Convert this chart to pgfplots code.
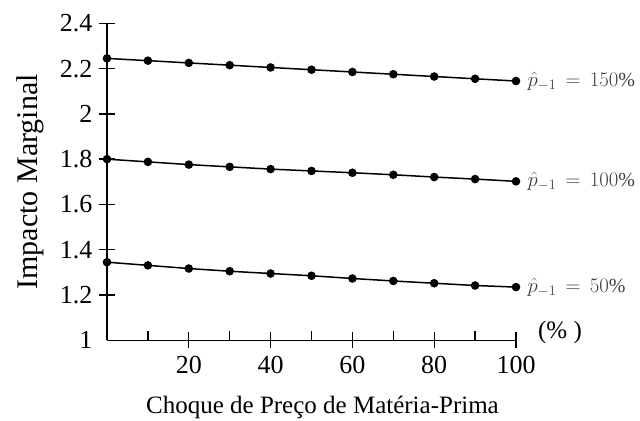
\documentclass[border=0pt]{standalone}
\usepackage{fontspec}
\setmainfont{Liberation Serif}
\usepackage{pgfplots}
\pgfplotsset{compat=1.18}
\begin{document}
\begin{tikzpicture}
\begin{axis}[
  name=ax,
  scale only axis,
  width=409pt, height=317pt,
  xmin=0, xmax=100, ymin=1, ymax=2.4,
  axis x line*=bottom, axis y line*=left,
  axis line style={line width=1.6pt},
  xtick={20,40,60,80,100},
  ytick={1,1.2,1.4,1.6,1.8,2,2.2,2.4},
  major tick length=0pt,
  /pgf/number format/assume math mode=true,
  ticklabel style={font=\fontsize{26}{30}\selectfont},
  yticklabel style={xshift=-11pt},
  xticklabel style={yshift=-12pt},
  xlabel style={font=\fontsize{25}{30}\selectfont, yshift=-16pt, xshift=11pt},
  ylabel style={font=\fontsize{30}{34}\selectfont, yshift=9pt},
  xlabel={Choque de Preço de Matéria-Prima},
  ylabel={Impacto Marginal},
  clip=false,
]
% tick marks crossing the axis lines, short ones between the labelled x ticks
\pgfplotsinvokeforeach{20,40,60,80,100}{
  \draw[line width=1.4pt] ([yshift=-8pt]axis cs:#1,1) -- ([yshift=8pt]axis cs:#1,1);}
\pgfplotsinvokeforeach{10,30,50,70,90}{
  \draw[line width=1.4pt] (axis cs:#1,1) -- ([yshift=9pt]axis cs:#1,1);}
\pgfplotsinvokeforeach{1.2,1.4,1.6,1.8,2,2.2,2.4}{
  \draw[line width=1.4pt] ([xshift=-8pt]axis cs:0,#1) -- ([xshift=8pt]axis cs:0,#1);}
\addplot[black, line width=1.5pt, mark=*, mark size=3.5pt] coordinates {
  (0,2.245) (10,2.235) (20,2.225) (30,2.215) (40,2.205) (50,2.195)
  (60,2.185) (70,2.175) (80,2.165) (90,2.155) (100,2.145)};
\addplot[black, line width=1.5pt, mark=*, mark size=3.5pt] coordinates {
  (0,1.800) (10,1.788) (20,1.776) (30,1.766) (40,1.756) (50,1.748)
  (60,1.740) (70,1.731) (80,1.721) (90,1.712) (100,1.702)};
\addplot[black, line width=1.5pt, mark=*, mark size=3.5pt] coordinates {
  (0,1.345) (10,1.331) (20,1.317) (30,1.305) (40,1.295) (50,1.285)
  (60,1.273) (70,1.262) (80,1.252) (90,1.242) (100,1.235)};
\node[anchor=west, text=black!75, font=\fontsize{20}{22}\selectfont] at ([xshift=8pt]axis cs:100,2.145) {$\hat{p}_{-1}\,=\,150\%$};
\node[anchor=west, text=black!75, font=\fontsize{20}{22}\selectfont] at ([xshift=8pt]axis cs:100,1.702) {$\hat{p}_{-1}\,=\,100\%$};
\node[anchor=west, text=black!75, font=\fontsize{20}{22}\selectfont] at ([xshift=8pt]axis cs:100,1.235) {$\hat{p}_{-1}\,=\,50\%$};
\node[font=\fontsize{25}{30}\selectfont] at ([xshift=44pt,yshift=8pt]axis cs:100,1) {(\% )};
\end{axis}
\pgfresetboundingbox
\path[use as bounding box] ([xshift=-107pt,yshift=-80.3pt]ax.south west) rectangle ([xshift=124pt,yshift=23.3pt]ax.north east);
\end{tikzpicture}
\end{document}
